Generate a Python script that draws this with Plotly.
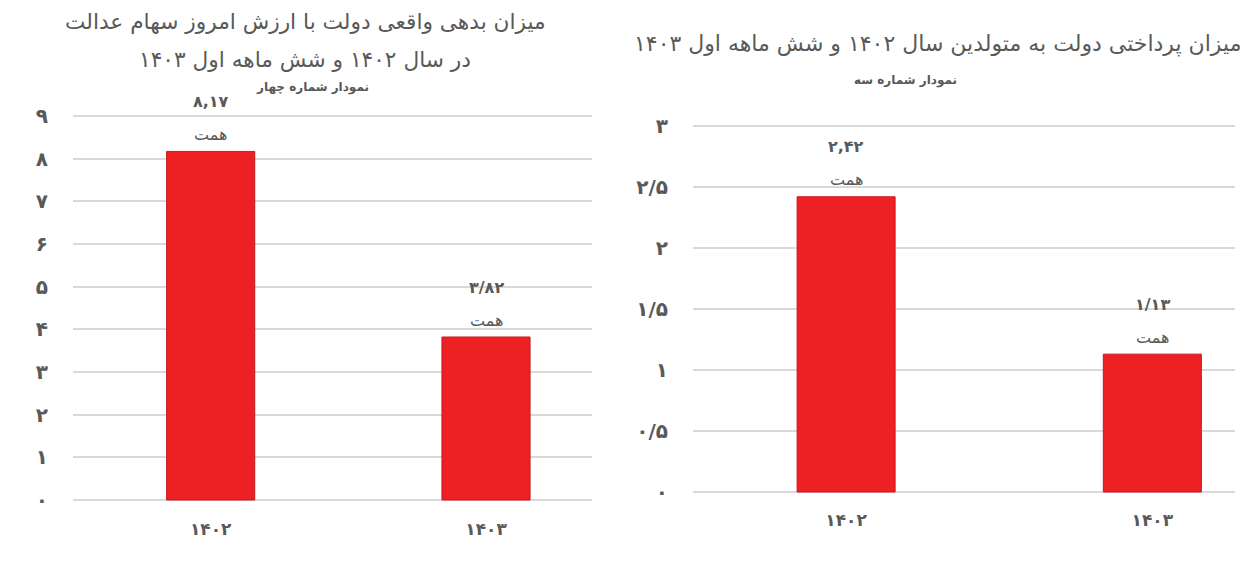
import plotly.graph_objects as go

# data
categories = ["۱۴۰۲", "۱۴۰۳"]

debt_values = [8.17, 3.82]
debt_labels = ["۸,۱۷", "۳/۸۲"]
debt_ticks = [0, 1, 2, 3, 4, 5, 6, 7, 8, 9]
debt_ticktext = ["۰", "۱", "۲", "۳", "۴", "۵", "۶", "۷", "۸", "۹"]

paid_values = [2.42, 1.13]
paid_labels = ["۲,۴۲", "۱/۱۳"]
paid_ticks = [0, 0.5, 1, 1.5, 2, 2.5, 3]
paid_ticktext = ["۰", "۰/۵", "۱", "۱/۵", "۲", "۲/۵", "۳"]

unit = "همت"

left_title = ["میزان بدهی واقعی دولت با ارزش امروز سهام عدالت",
              "در سال ۱۴۰۲ و شش ماهه اول ۱۴۰۳"]
left_sub = "نمودار شماره چهار"
right_title = "میزان پرداختی دولت به متولدین سال ۱۴۰۲ و شش ماهه اول ۱۴۰۳"
right_sub = "نمودار شماره سه"

FONT = "DejaVu Sans"
GRAY = "#595959"
RED = "#ED2024"
W, H = 1252, 563

fig = go.Figure()

for xa, ya, vals in [("x", "y", debt_values), ("x2", "y2", paid_values)]:
    fig.add_trace(go.Bar(
        x=categories, y=vals,
        xaxis=xa, yaxis=ya,
        marker=dict(color=RED, line=dict(color="#C8161D", width=1)),
        width=0.32,
        hoverinfo="skip",
    ))

annotations = []
for xref, yref, vals, labels in [("x", "y", debt_values, debt_labels),
                                 ("x2", "y2", paid_values, paid_labels)]:
    for cat, v, lab in zip(categories, vals, labels):
        annotations.append(dict(
            x=cat, y=v, xref=xref, yref=yref, text=unit,
            showarrow=False, yanchor="middle", yshift=17,
            font=dict(family=FONT, size=16, color=GRAY),
        ))
        annotations.append(dict(
            x=cat, y=v, xref=xref, yref=yref, text="<b>" + lab + "</b>",
            showarrow=False, yanchor="middle", yshift=50,
            font=dict(family=FONT, size=16, color=GRAY),
        ))


def paper_text(px_x, px_y, text, size):
    return dict(
        x=px_x / W, y=1 - px_y / H, xref="paper", yref="paper", text=text,
        showarrow=False, xanchor="center", yanchor="middle",
        font=dict(family=FONT, size=size, color=GRAY),
    )


annotations.append(paper_text(305, 22, left_title[0], 21.7))
annotations.append(paper_text(305, 60, left_title[1], 21.7))
annotations.append(paper_text(312, 88, "<b>" + left_sub + "</b>", 12))
annotations.append(paper_text(937, 44, right_title, 22))
annotations.append(paper_text(905, 80, "<b>" + right_sub + "</b>", 12))

grid = "#D9D9D9"

xaxis_common = dict(
    tickfont=dict(family=FONT, size=17, color=GRAY), showgrid=False, zeroline=False,
    ticks="outside", ticklen=5, tickcolor="rgba(0,0,0,0)",
    tickprefix="<b>", ticksuffix="</b>",
    automargin=False, fixedrange=True,
)
yaxis_common = dict(
    tickfont=dict(family=FONT, size=20, color=GRAY), showgrid=True, gridcolor=grid, gridwidth=2,
    zeroline=False, ticks="outside", ticklen=20, tickcolor="rgba(0,0,0,0)",
    automargin=False, fixedrange=True,
)

# left: 0 -> 500px, 9 -> 116px ; right: 0 -> 492px, 3 -> 126px
lpu = (500 - 116) / 9
rpu = (492 - 126) / 3

fig.update_layout(
    width=W, height=H,
    autosize=False,
    margin=dict(l=0, r=0, t=0, b=0, pad=0),
    paper_bgcolor="white", plot_bgcolor="white",
    showlegend=False,
    annotations=annotations,
    xaxis=dict(domain=[73 / W, 592 / W], range=[-0.5, 1.385], anchor="y", **xaxis_common),
    yaxis=dict(
        domain=[1 - (500 + 0.2 * lpu) / H, 1 - (116 - 0.3 * lpu) / H], range=[-0.2, 9.3],
        tickvals=debt_ticks, ticktext=["<b>" + t + "</b>" for t in debt_ticktext],
        anchor="x", **yaxis_common,
    ),
    xaxis2=dict(domain=[693 / W, 1235 / W], range=[-0.5, 1.27], anchor="y2", **xaxis_common),
    yaxis2=dict(
        domain=[1 - (492 + 0.06 * rpu) / H, 1 - (126 - 0.1 * rpu) / H], range=[-0.06, 3.1],
        tickvals=paid_ticks, ticktext=["<b>" + t + "</b>" for t in paid_ticktext],
        anchor="x2", **yaxis_common,
    ),
)

fig.write_html(
    "out.html",
    config={"displayModeBar": False},
    post_script="document.body.style.margin = '0';",
)
